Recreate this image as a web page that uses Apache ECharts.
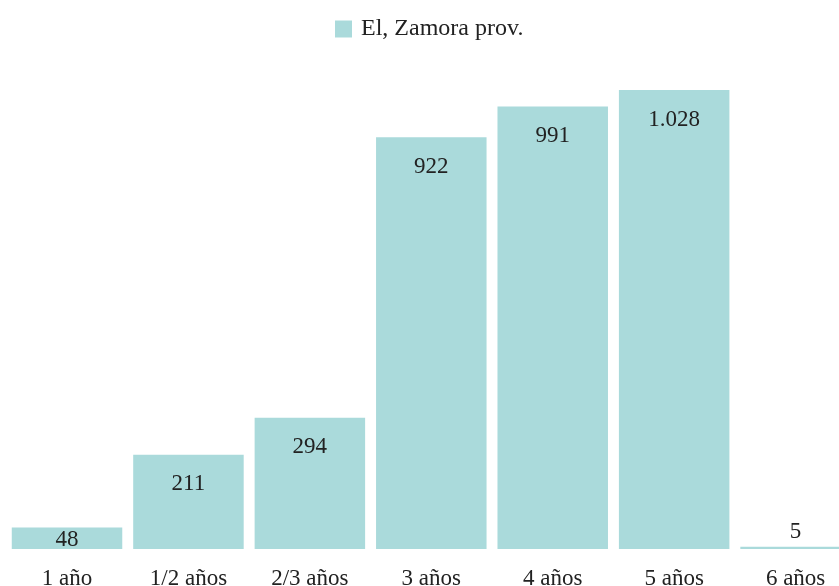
<!DOCTYPE html>
<html>
<head>
<meta charset="utf-8">
<script src="https://cdn.jsdelivr.net/npm/echarts@6/dist/echarts.min.js"></script>
<style>
  html, body { margin: 0; padding: 0; background: #fff; }
  #main { width: 839px; height: 586px; }
</style>
</head>
<body>
<div id="main"></div>
<script>
var categories = ['1 año', '1/2 años', '2/3 años', '3 años', '4 años', '5 años', '6 años'];
var values = [48, 211, 294, 922, 991, 1028, 5];
var seriesName = 'El, Zamora prov.';

var chart = echarts.init(document.getElementById('main'));

var barData = values.map(function (v) {
  // small bars get the label on top of the bar
  if (v < 20) {
    return { value: v, label: { position: 'top', distance: 3 } };
  }
  if (v < 100) {
    return { value: v, label: { position: 'insideTop', distance: 1 } };
  }
  return v;
});

var option = {
  textStyle: { fontFamily: 'Liberation Serif' },
  legend: {
    top: 17,
    left: 335,
    icon: 'rect',
    itemWidth: 17,
    itemHeight: 17,
    itemGap: 10,
    padding: 0,
    textStyle: {
      fontFamily: 'Liberation Serif',
      fontSize: 24,
      color: '#222',
      padding: [0, 0, 0, 4]
    },
    data: [seriesName]
  },
  grid: {
    left: 6.3, width: 850, top: 90, bottom: 37,
    containLabel: false,
    outerBoundsMode: 'none'
  },
  xAxis: {
    type: 'category',
    data: categories,
    axisLine: { show: false },
    axisTick: { show: false },
    axisLabel: {
      fontFamily: 'Liberation Serif',
      fontSize: 23,
      color: '#222',
      margin: 18,
      interval: 0
    }
  },
  yAxis: {
    type: 'value',
    min: 0,
    max: 1028,
    show: false,
    splitLine: { show: false }
  },
  series: [{
    name: seriesName,
    type: 'bar',
    data: barData,
    barCategoryGap: '9%',
    itemStyle: { color: '#aadadb' },
    label: {
      show: true,
      position: 'insideTop',
      distance: 18,
      fontFamily: 'Liberation Serif',
      fontSize: 23,
      color: '#222',
      formatter: function (p) {
        return p.value.toLocaleString('de-DE');
      }
    }
  }]
};

chart.setOption(option);
</script>
</body>
</html>
